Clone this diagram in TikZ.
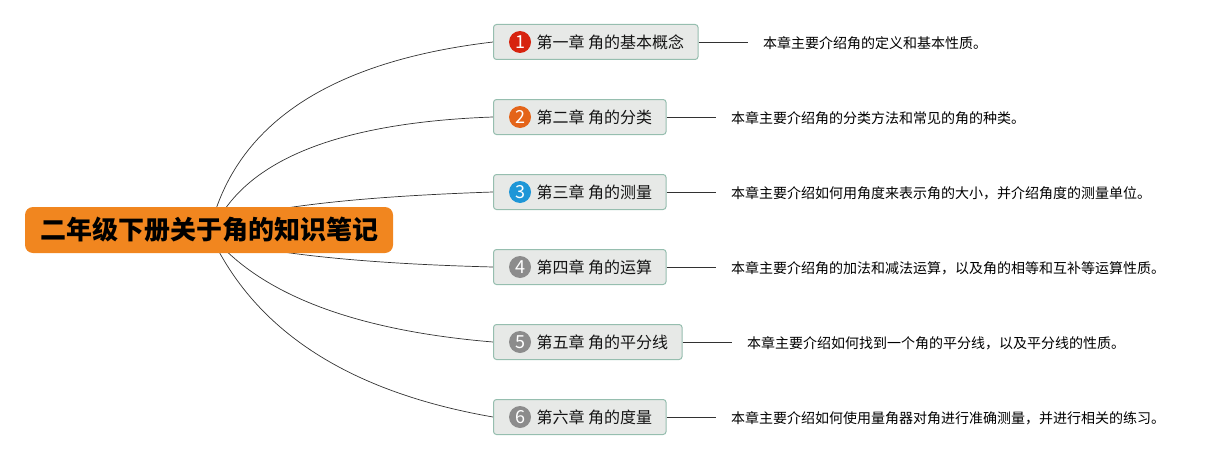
\documentclass[tikz,border=0pt]{standalone}
\usepackage{fontspec}
\setmainfont{Noto Sans CJK SC}
\usetikzlibrary{backgrounds}
\definecolor{rootorange}{RGB}{241,134,31}
\definecolor{boxfill}{RGB}{231,233,231}
\definecolor{boxline}{RGB}{150,190,175}
\definecolor{nred}{RGB}{215,35,15}
\definecolor{norange}{RGB}{228,100,25}
\definecolor{nblue}{RGB}{30,150,215}
\definecolor{ngray}{RGB}{140,140,140}
\definecolor{linkc}{RGB}{50,50,50}
\tikzset{
  rootbox/.style={fill=rootorange, rounded corners=8pt, minimum width=368pt, minimum height=46pt,
    inner sep=0pt, font=\fontsize{26}{30}\selectfont\bfseries, text=black},
  chapbox/.style={anchor=west, fill=boxfill, draw=boxline, line width=1pt, rounded corners=3pt,
    minimum height=35pt, inner xsep=14pt, inner ysep=0pt, font=\fontsize{16}{19}\selectfont, text=black!92},
  numdot/.style={circle, minimum size=22pt, inner sep=0pt, text=white, font=\fontsize{18}{20}\selectfont},
  notetext/.style={anchor=west, inner xsep=15pt, inner ysep=2pt, font=\fontsize{14}{17}\selectfont, text=black},
  link/.style={draw=linkc, line width=0.7pt},
}
\begin{document}
\begin{tikzpicture}[x=1pt, y=-1pt]
\useasboundingbox (0,0) rectangle (1225,460);
\node[rootbox] (root) at (209,230) {二年级下册关于角的知识笔记};
\coordinate (s1) at (212,222);
\coordinate (s2) at (217,222);
\coordinate (s3) at (220,222);
\coordinate (s4) at (212,238);
\coordinate (s5) at (214,238);
\coordinate (s6) at (212,238);

\node[chapbox] (c1) at (493,42) {\hspace*{29pt}第一章 角的基本概念};
\node[chapbox] (c2) at (493,117) {\hspace*{29pt}第二章 角的分类};
\node[chapbox] (c3) at (493,192) {\hspace*{29pt}第三章 角的测量};
\node[chapbox] (c4) at (493,267) {\hspace*{29pt}第四章 角的运算};
\node[chapbox] (c5) at (493,342) {\hspace*{29pt}第五章 角的平分线};
\node[chapbox] (c6) at (493,417) {\hspace*{29pt}第六章 角的度量};

\node[numdot, fill=nred] (d1) at ([xshift=27pt]c1.west) {1};
\node[numdot, fill=norange] (d2) at ([xshift=27pt]c2.west) {2};
\node[numdot, fill=nblue] (d3) at ([xshift=27pt]c3.west) {3};
\node[numdot, fill=ngray] (d4) at ([xshift=27pt]c4.west) {4};
\node[numdot, fill=ngray] (d5) at ([xshift=27pt]c5.west) {5};
\node[numdot, fill=ngray] (d6) at ([xshift=27pt]c6.west) {6};

\node[notetext] (n1) at (748,43) {本章主要介绍角的定义和基本性质。};
\node[notetext] (n2) at (716,118) {本章主要介绍角的分类方法和常见的角的种类。};
\node[notetext] (n3) at (716,193) {本章主要介绍如何用角度来表示角的大小，并介绍角度的测量单位。};
\node[notetext] (n4) at (716,268) {本章主要介绍角的加法和减法运算，以及角的相等和互补等运算性质。};
\node[notetext] (n5) at (732,343) {本章主要介绍如何找到一个角的平分线，以及平分线的性质。};
\node[notetext] (n6) at (716,418) {本章主要介绍如何使用量角器对角进行准确测量，并进行相关的练习。};

\draw[link] (c1.east) -- (c1.east -| n1.west);
\draw[link] (c2.east) -- (c2.east -| n2.west);
\draw[link] (c3.east) -- (c3.east -| n3.west);
\draw[link] (c4.east) -- (c4.east -| n4.west);
\draw[link] (c5.east) -- (c5.east -| n5.west);
\draw[link] (c6.east) -- (c6.east -| n6.west);

\begin{scope}[on background layer]
\draw[link] (s1) .. controls (240,120.7) and (334.3,60.7) .. (c1.west);
\draw[link] (s2) .. controls (251.7,157.3) and (344.3,122.3) .. (c2.west);
\draw[link] (s3) .. controls (273.3,206) and (364.3,196.3) .. (c3.west);
\draw[link] (s4) .. controls (270.7,254) and (364.3,263.7) .. (c4.west);
\draw[link] (s5) .. controls (264,296) and (357.7,330.7) .. (c5.west);
\draw[link] (s6) .. controls (257.3,332.7) and (351,392.3) .. (c6.west);
\end{scope}
\end{tikzpicture}
\end{document}
